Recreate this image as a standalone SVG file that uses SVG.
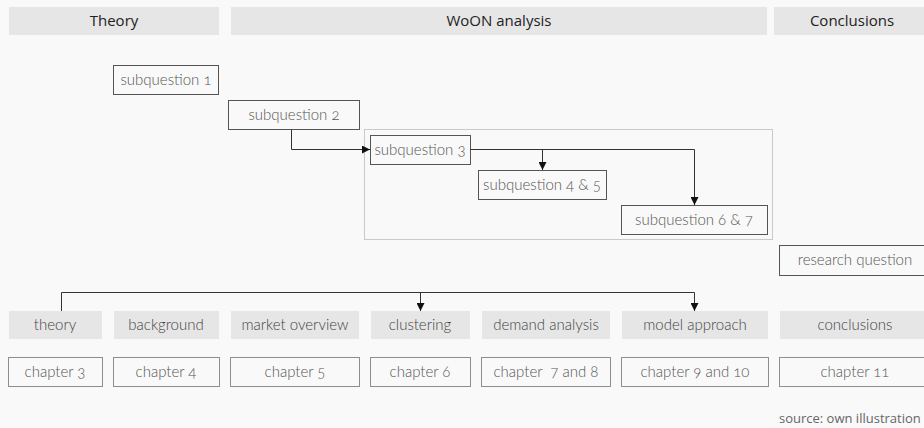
<svg xmlns="http://www.w3.org/2000/svg" width="924" height="428" viewBox="0 0 924 428">
  <style>
    .bg { fill: #f9f9f9; }
    .phase { fill: #e6e6e6; }
    .phase-label { font-family: "Open Sans", "Liberation Sans", sans-serif; font-size: 15px; fill: #222; text-anchor: middle; }
    .q { fill: #f9f9f9; stroke: #555; stroke-width: 1; }
    .topic { fill: #e6e6e6; }
    .chap { fill: #f9f9f9; stroke: #222; stroke-width: 1; stroke-dasharray: 1 1; }
    .scope { fill: none; stroke: #999; stroke-width: 1; stroke-dasharray: 1 1; }
    .lbl { font-family: "Lato", "Open Sans", "Liberation Sans", sans-serif; font-weight: 300; font-size: 15px; fill: #555; text-anchor: middle; font-variant-numeric: oldstyle-nums; }
    .topic-lbl { fill: #444; }
    .src { font-family: "Open Sans", "Liberation Sans", sans-serif; font-size: 13px; fill: #666; }
    .edge { fill: none; stroke: #333; stroke-width: 1; }
  </style>
  <defs>
    <marker id="arrow" viewBox="0 0 8 8" refX="8" refY="4" markerWidth="8" markerHeight="8" markerUnits="userSpaceOnUse" orient="auto">
      <path d="M0,0 L8,4 L0,8 Z" fill="#111"/>
    </marker>
  </defs>

  <rect class="bg" x="0" y="0" width="924" height="428"/>

  <!-- phase headers -->
  <g id="phase-theory">
    <rect class="phase" x="9" y="7" width="210" height="28"/>
    <text class="phase-label" x="114" y="26">Theory</text>
  </g>
  <g id="phase-woon">
    <rect class="phase" x="231" y="7" width="536" height="28"/>
    <text class="phase-label" x="499" y="26">WoON analysis</text>
  </g>
  <g id="phase-conclusions">
    <rect class="phase" x="774" y="7" width="155" height="28"/>
    <text class="phase-label" x="852" y="26">Conclusions</text>
  </g>

  <!-- scope of the WoON sub-questions -->
  <rect id="woon-scope" class="scope" x="364.5" y="129.5" width="408" height="110"/>

  <!-- research questions -->
  <g id="sq1">
    <rect class="q" x="113.5" y="65.5" width="105" height="29"/>
    <text class="lbl" x="166" y="85">subquestion 1</text>
  </g>
  <g id="sq2">
    <rect class="q" x="228.5" y="100.5" width="131" height="29"/>
    <text class="lbl" x="294" y="120">subquestion 2</text>
  </g>
  <g id="sq3">
    <rect class="q" x="370.5" y="135.5" width="100" height="29"/>
    <text class="lbl" x="420" y="155">subquestion 3</text>
  </g>
  <g id="sq45">
    <rect class="q" x="478.5" y="170.5" width="128" height="29"/>
    <text class="lbl" x="542" y="190">subquestion 4 &amp; 5</text>
  </g>
  <g id="sq67">
    <rect class="q" x="621.5" y="205.5" width="146" height="29"/>
    <text class="lbl" x="694" y="225">subquestion 6 &amp; 7</text>
  </g>
  <g id="rq">
    <rect class="q" x="779.5" y="245.5" width="150" height="30"/>
    <text class="lbl" x="855" y="265">research question</text>
  </g>

  <!-- topics -->
  <g id="t-theory">
    <rect class="topic" x="9" y="311" width="93" height="28"/>
    <text class="lbl topic-lbl" x="55" y="330">theory</text>
  </g>
  <g id="t-background">
    <rect class="topic" x="114" y="311" width="105" height="28"/>
    <text class="lbl topic-lbl" x="166" y="330">background</text>
  </g>
  <g id="t-market">
    <rect class="topic" x="231" y="311" width="128" height="28"/>
    <text class="lbl topic-lbl" x="295" y="330">market overview</text>
  </g>
  <g id="t-clustering">
    <rect class="topic" x="371" y="311" width="99" height="28"/>
    <text class="lbl topic-lbl" x="420" y="330">clustering</text>
  </g>
  <g id="t-demand">
    <rect class="topic" x="482" y="311" width="128" height="28"/>
    <text class="lbl topic-lbl" x="546" y="330">demand analysis</text>
  </g>
  <g id="t-model">
    <rect class="topic" x="622" y="311" width="146" height="28"/>
    <text class="lbl topic-lbl" x="695" y="330">model approach</text>
  </g>
  <g id="t-conclusions">
    <rect class="topic" x="780" y="311" width="150" height="28"/>
    <text class="lbl topic-lbl" x="855" y="330">conclusions</text>
  </g>

  <!-- chapters -->
  <g id="ch3">
    <rect class="chap" x="8.5" y="357.5" width="94" height="29"/>
    <text class="lbl" x="55" y="377">chapter 3</text>
  </g>
  <g id="ch4">
    <rect class="chap" x="113.5" y="357.5" width="106" height="29"/>
    <text class="lbl" x="166" y="377">chapter 4</text>
  </g>
  <g id="ch5">
    <rect class="chap" x="230.5" y="357.5" width="129" height="29"/>
    <text class="lbl" x="295" y="377">chapter 5</text>
  </g>
  <g id="ch6">
    <rect class="chap" x="370.5" y="357.5" width="100" height="29"/>
    <text class="lbl" x="420" y="377">chapter 6</text>
  </g>
  <g id="ch78">
    <rect class="chap" x="481.5" y="357.5" width="129" height="29"/>
    <text class="lbl" x="546" y="377" xml:space="preserve">chapter  7 and 8</text>
  </g>
  <g id="ch910">
    <rect class="chap" x="621.5" y="357.5" width="147" height="29"/>
    <text class="lbl" x="695" y="377">chapter 9 and 10</text>
  </g>
  <g id="ch11">
    <rect class="chap" x="779.5" y="357.5" width="150" height="29"/>
    <text class="lbl" x="855" y="377">chapter 11</text>
  </g>

  <!-- connectors -->
  <g id="connectors">
    <path class="edge" d="M291.5,129.5 V149.5 H370" marker-end="url(#arrow)"/>
    <path class="edge" d="M470.5,149.5 H694.5 V205" marker-end="url(#arrow)"/>
    <path class="edge" d="M542.5,149.5 V170" marker-end="url(#arrow)"/>
    <path class="edge" d="M61.5,311 V292.5 H694.5 V311" marker-end="url(#arrow)"/>
    <path class="edge" d="M420.5,292.5 V311" marker-end="url(#arrow)"/>
  </g>

  <text class="src" x="779" y="423">source: own illustration</text>
</svg>
